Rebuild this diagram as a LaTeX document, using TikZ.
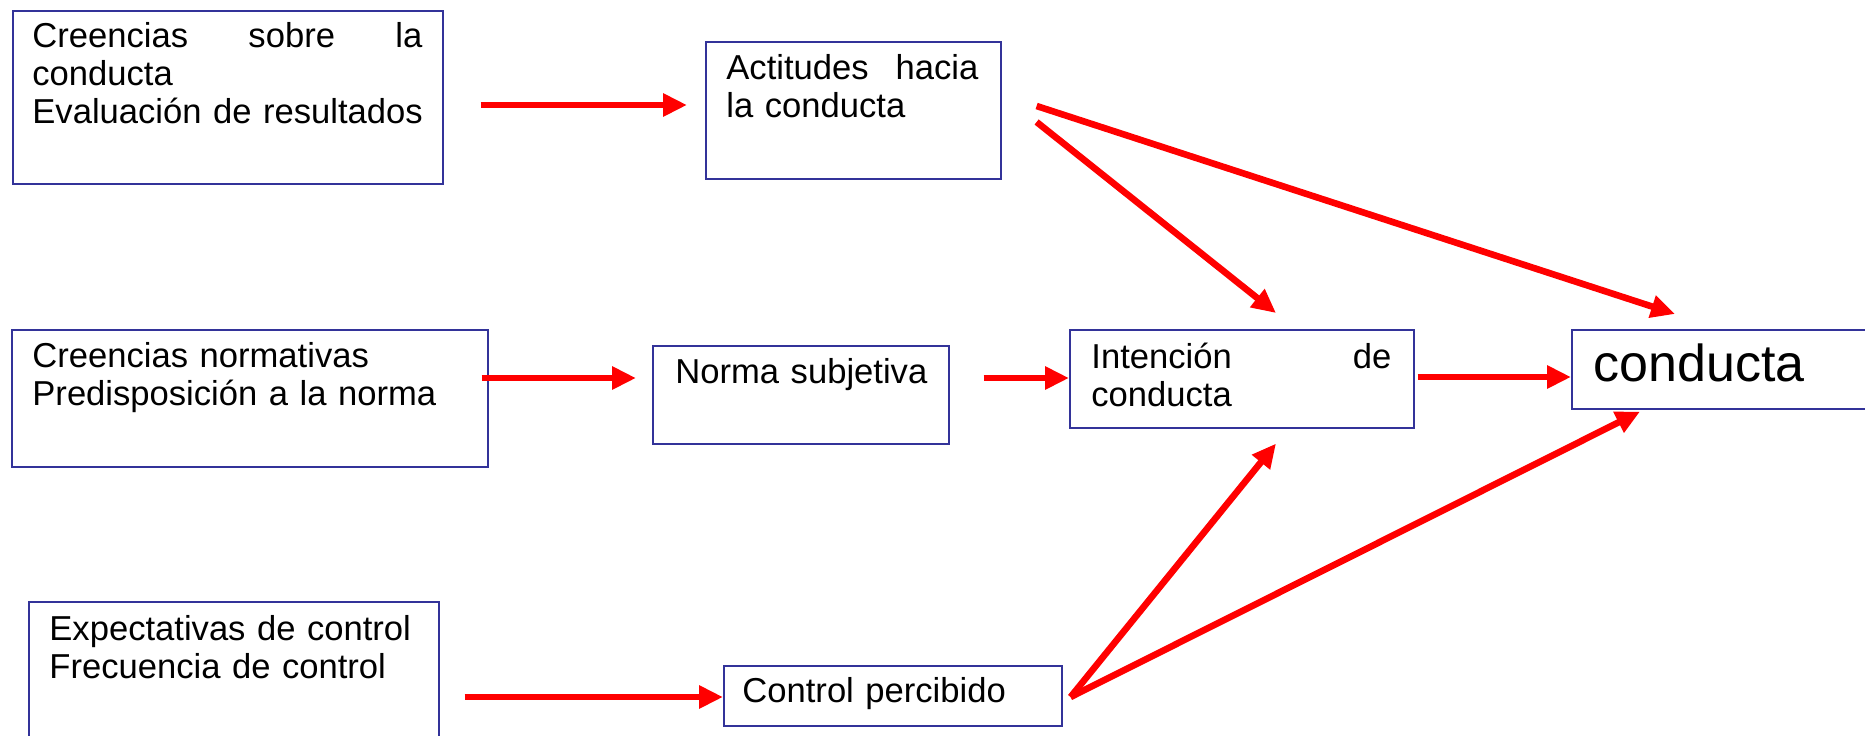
\documentclass[tikz,border=0pt]{standalone}
\usepackage{fontspec}
\setmainfont{Liberation Sans}
\usetikzlibrary{arrows.meta,calc}
\definecolor{boxblue}{RGB}{51,51,153}
\hyphenpenalty=10000
\exhyphenpenalty=10000
\begin{document}
\begin{tikzpicture}[x=0.5pt,y=-0.5pt,
  box/.style={draw=boxblue,line width=0.8pt,anchor=north west,inner sep=0pt},
  txt/.style={anchor=base west,inner sep=0pt,align=left,font=\fontsize{17.3}{19}\selectfont},
  arr/.style={draw=red,line width=3.3pt,-{Triangle[length=12pt,width=11pt]}}]
\useasboundingbox (0,0) rectangle (1865,735);
\clip (0,0) rectangle (1865,735);
% boxes
\node[box,minimum width=215pt,minimum height=86.5pt] (b1) at (12,10) {};
\node[box,minimum width=147.5pt,minimum height=68.5pt] (b2) at (705,41) {};
\node[box,minimum width=238pt,minimum height=68.5pt] (b3) at (11,329) {};
\node[box,minimum width=148pt,minimum height=49pt] (b4) at (652,345) {};
\node[box,minimum width=172pt,minimum height=49pt] (b5) at (1069,329) {};
\node[box,minimum width=170pt,minimum height=39.5pt] (b6) at (1571,329) {};
\node[box,minimum width=205pt,minimum height=80pt] (b7) at (28,601) {};
\node[box,minimum width=169pt,minimum height=30pt] (b8) at (723,665) {};
% texts
\node[txt,text width=205pt] (t1) at (32,47) {\makebox[195pt][s]{Creencias\hfill sobre\hfill la}\\conducta\\Evaluación de resultados};
\node[txt,text width=135pt] (t2) at (726,79) {\makebox[126pt][s]{Actitudes\hfill hacia}\\la conducta};
\node[txt,text width=225pt] (t3) at (32,367) {Creencias normativas\\Predisposición a la norma};
\node[txt,text width=135pt] (t4) at (675,383) {Norma subjetiva};
\node[txt,text width=155pt] (t5) at (1091,368) {\makebox[150pt][s]{Intención\hfill de}\\conducta};
\node[txt,text width=140pt,font=\fontsize{26}{28}\selectfont] (t6) at (1593,381) {conducta};
\node[txt,text width=195pt] (t7) at (49,640) {Expectativas de control\\Frecuencia de control};
\node[txt,text width=155pt] (t8) at (742,702) {Control percibido};
% arrows
\draw[arr] ($(b1.north east)+(37,95)$) -- ($(b2.north west)+(-18,64)$);
\draw[arr] ($(b2.north east)+(35,65)$) -- ($(b6.north west)+(104,-15)$);
\draw[arr] ($(b2.north east)+(35,81)$) -- ($(b5.north west)+(207,-16)$);
\draw[arr] ($(b3.north east)+(-7,49)$) -- ($(b4.north west)+(-16,33)$);
\draw[arr] ($(b4.north east)+(34,33)$) -- ($(b5.north west)+(0,49)$);
\draw[arr] ($(b5.north east)+(3,48)$) -- ($(b6.north west)+(0,48)$);
\draw[arr] ($(b7.north east)+(25,96)$) -- ($(b8.north west)+(0,32)$);
\draw[arr] ($(b8.north east)+(8,32)$) -- ($(b5.south west)+(207,15)$);
\draw[arr] ($(b8.north east)+(8,32)$) -- ($(b6.south west)+(69,2)$);
\end{tikzpicture}
\end{document}
